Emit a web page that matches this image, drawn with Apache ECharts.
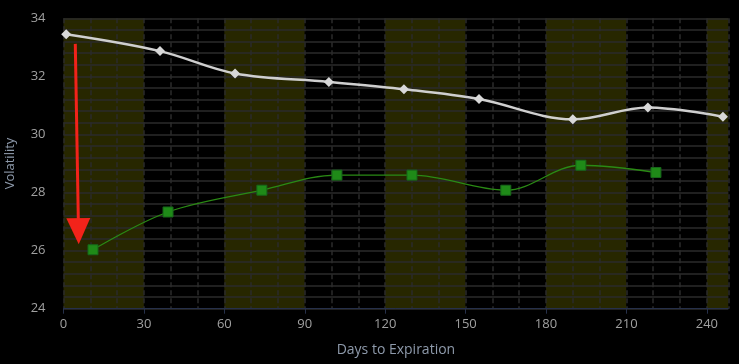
<!DOCTYPE html>
<html>
<head>
<meta charset="utf-8">
<script src="https://cdn.jsdelivr.net/npm/echarts@6/dist/echarts.min.js"></script>
<style>
html,body{margin:0;padding:0;background:#000;}
#chart{width:739px;height:364px;}
</style>
</head>
<body>
<div id="chart"></div>
<script>
// Data (days to expiration, volatility)
const whiteDays = [1, 36, 64, 99, 127, 155, 190, 218, 246];
const whiteVol = [33.45, 32.87, 32.1, 31.81, 31.56, 31.22, 30.52, 30.93, 30.61];
const greenDays = [11, 39, 74, 102, 130, 165, 193, 221];
const greenVol = [26.03, 27.33, 28.08, 28.6, 28.6, 28.08, 28.94, 28.69];
const arrowStart = [4.4, 33.12];
const arrowEnd = [5.6, 26.67];
const xTicks = [0, 30, 60, 90, 120, 150, 180, 210, 240];
const yTicks = [24, 26, 28, 30, 32, 34];
const xMax = 248;

const zip = (a, b) => a.map((v, i) => [v, b[i]]);
const font = '"Open Sans", "DejaVu Sans", sans-serif';
const gridLine = { color: '#2b2b2b', width: 1.5 };

const chart = echarts.init(document.getElementById('chart'));
chart.setOption({
  backgroundColor: '#000',
  animation: false,
  grid: { left: 63.5, right: 10.7, top: 18.3, bottom: 55.3, outerBoundsMode: 'none', containLabel: false },
  xAxis: [
    {
      type: 'value',
      min: xTicks[0], max: xMax, interval: 30,
      z: 2,
      name: 'Days to Expiration',
      nameLocation: 'middle', nameGap: 34,
      nameTextStyle: { color: '#8e9aab', fontSize: 14, fontFamily: font },
      axisLine: { show: true, lineStyle: { color: '#26304a', width: 1 } },
      axisTick: { show: true, length: 5, lineStyle: { color: '#26304a' } },
      axisLabel: { color: '#a0a0a0', fontSize: 13, fontFamily: font, margin: 9, showMaxLabel: false,
        formatter: v => xTicks.includes(v) ? String(v) : '' },
      splitLine: { show: true, lineStyle: Object.assign({ type: [5, 3] }, gridLine) },
      minorTick: { show: false, splitNumber: 3 },
      minorSplitLine: { show: true, lineStyle: Object.assign({ type: [5, 3] }, gridLine) },
      splitArea: { show: false }
    },
    {
      type: 'value',
      min: xTicks[0], max: xMax, interval: 30,
      z: -1,
      show: true,
      axisLine: { show: false },
      axisTick: { show: false },
      axisLabel: { show: false },
      splitLine: { show: false },
      splitArea: { show: true, areaStyle: { color: ['#272700', '#000000'] } }
    }
  ],
  yAxis: {
    type: 'value',
    min: yTicks[0], max: yTicks[yTicks.length - 1], interval: 2,
    z: 2,
    name: 'Volatility',
    nameLocation: 'middle', nameGap: 47,
    nameTextStyle: { color: '#8e9aab', fontSize: 13, fontFamily: font },
    axisLine: { show: false },
    axisTick: { show: false },
    axisLabel: { color: '#a0a0a0', fontSize: 13, fontFamily: font, margin: 18 },
    splitLine: { show: true, lineStyle: gridLine },
    minorTick: { show: false, splitNumber: 5 },
    minorSplitLine: { show: true, lineStyle: gridLine }
  },
  series: [
    {
      type: 'line',
      data: zip(whiteDays, whiteVol),
      smooth: 0.35,
      symbol: 'diamond',
      symbolSize: 10,
      lineStyle: { color: '#cfcfcf', width: 2.5 },
      itemStyle: { color: '#d8d8d8' },
      z: 3
    },
    {
      type: 'line',
      data: zip(greenDays, greenVol),
      smooth: 0.35,
      symbol: 'rect',
      symbolSize: 10,
      lineStyle: { color: '#2a8a14', width: 1.3 },
      itemStyle: { color: '#1f8a18', borderColor: '#17661a', borderWidth: 1 },
      z: 3,
      markLine: {
        silent: true,
        animation: false,
        symbol: ['none', 'triangle'],
        symbolSize: [24, 26],
        label: { show: false },
        lineStyle: { color: '#f2231a', width: 3, type: 'solid' },
        itemStyle: { color: '#f2231a' },
        data: [[{ coord: arrowStart }, { coord: arrowEnd }]]
      }
    }
  ]
});
</script>
</body>
</html>
